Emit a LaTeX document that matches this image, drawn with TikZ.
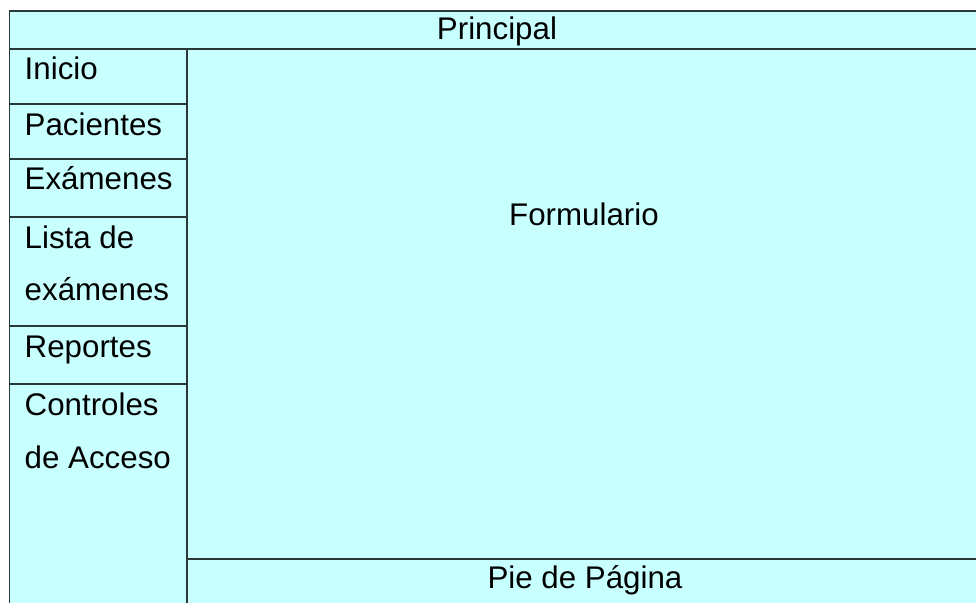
\documentclass[tikz,border=0pt]{standalone}
\usepackage{fontspec}
\setmainfont{Liberation Sans}
\definecolor{cellfill}{HTML}{C8FFFF}
\definecolor{gridline}{HTML}{2B3838}
\begin{document}
\begin{tikzpicture}[x=1pt,y=-1pt,
  gridln/.style={draw=gridline,line width=1.8pt},
  lbl/.style={inner sep=0pt,font=\fontsize{31.3}{36}\selectfont},
  menu/.style={lbl,anchor=base west}]
\useasboundingbox (0,0) rectangle (976,603);
\fill[cellfill] (9.5,11) rectangle (976,603);
% grid
\draw[gridln] (976,11) -- (9.5,11) -- (9.5,603);
\draw[gridln] (9.5,49) -- (976,49);
\draw[gridln] (187,49) -- (187,603);
\foreach \yy in {104,159,217,326,384} \draw[gridln] (9.5,\yy) -- (187,\yy);
\draw[gridln] (187,559) -- (976,559);
% texts
\node[lbl,anchor=base] (principal) at (497,39) {Principal};
\node[menu] (inicio) at (24.5,79) {Inicio};
\node[menu] (pacientes) at (24.5,135) {Pacientes};
\node[menu] (examenes) at (24.5,189) {Exámenes};
\node[menu] (lista1) at (24.5,248) {Lista de};
\node[menu] (lista2) at (24.5,300) {exámenes};
\node[menu] (reportes) at (24.5,357) {Reportes};
\node[menu] (control1) at (24.5,415) {Controles};
\node[menu] (control2) at (24.5,468) {de Acceso};
\node[lbl,anchor=base] (formulario) at (584,225) {Formulario};
\node[lbl,anchor=base] (pie) at (585,588) {Pie de Página};
\end{tikzpicture}
\end{document}
